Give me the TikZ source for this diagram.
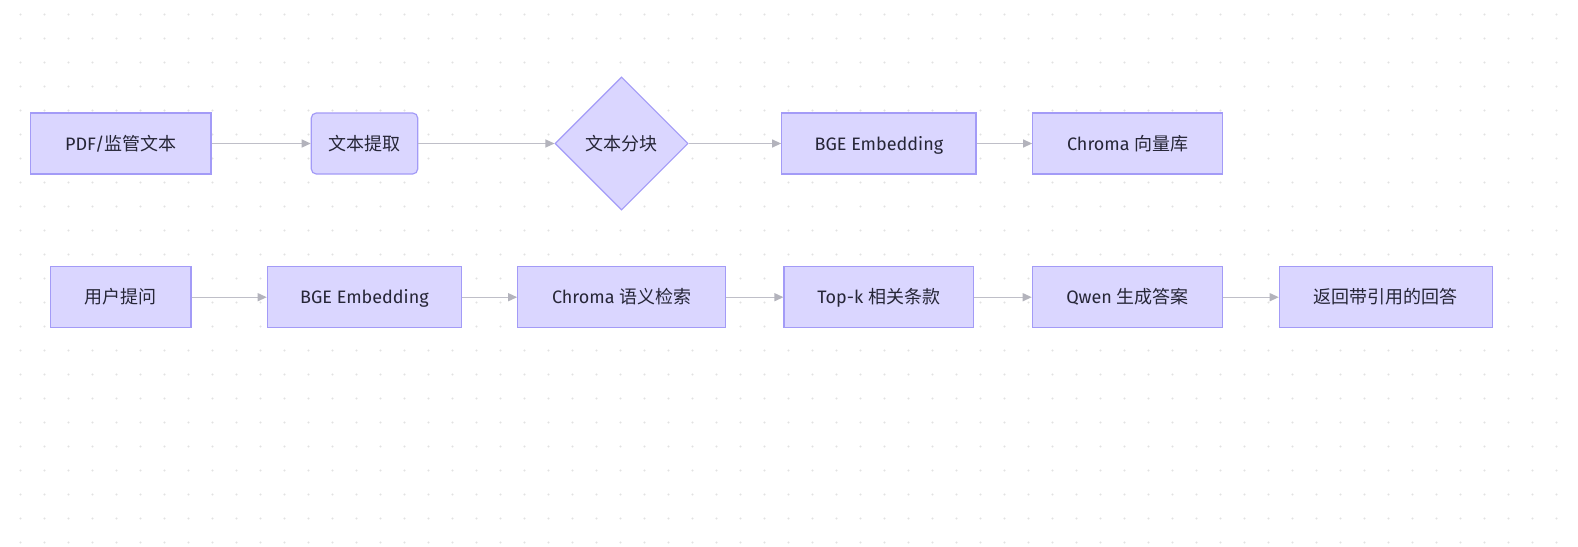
\documentclass[tikz,border=0pt]{standalone}
\usepackage{fontspec}
\setmainfont{Fira Sans}
\newfontfamily\cjk{Noto Sans CJK SC}
\usetikzlibrary{shapes.geometric,arrows.meta}
\definecolor{nodefill}{HTML}{DAD6FF}
\definecolor{nodeline}{HTML}{A39BF7}
\definecolor{edgeline}{HTML}{BFBFC8}
\definecolor{tipcol}{HTML}{B3B3BC}
\definecolor{txt}{HTML}{262637}
\definecolor{dotcol}{HTML}{E2E2E2}
\tikzset{
  box/.style={draw=nodeline, fill=nodefill, line width=1.2pt, minimum height=61pt, inner sep=0pt, text=txt, font=\fontsize{18}{22}\selectfont, text height=15.5pt, text depth=2pt},
  rbox/.style={box, rounded corners=5pt},
  dia/.style={box, diamond, minimum width=133pt, minimum height=133pt, aspect=1, line width=1.1pt},
  edge/.style={draw=edgeline, line width=1.3pt, -{Triangle[length=9pt,width=8pt,color=tipcol]}},
}
\begin{document}
\begin{tikzpicture}[x=1pt,y=-1pt]
\useasboundingbox (0,0) rectangle (1578,546);
\fill[white] (0,0) rectangle (1578,546);
\foreach \i in {0,...,64}{
  \foreach \j in {0,...,22}{
    \fill[dotcol] (20.5+24*\i,14.5+24*\j) circle (1.1pt);
  }
}
% row 1
\node[box, minimum width=180.3pt] (n1) at (120.85,143.5) {PDF/{\cjk 监管文本}};
\node[rbox, minimum width=106.4pt] (n2) at (364.5,143.5) {\cjk 文本提取};
\node[dia] (n3) at (621.5,143.5) {\cjk 文本分块};
\node[box, minimum width=194.3pt] (n4) at (878.85,143.5) {BGE Embedding};
\node[box, minimum width=190pt] (n5) at (1127.7,143.5) {Chroma {\cjk 向量库}};
% row 2
\node[box, minimum width=140.3pt] (m1) at (120.85,297.2) {\cjk 用户提问};
\node[box, minimum width=194.2pt] (m2) at (364.4,297.2) {BGE Embedding};
\node[box, minimum width=208pt] (m3) at (621.7,297.2) {Chroma {\cjk 语义检索}};
\node[box, minimum width=189.3pt] (m4) at (878.65,297.2) {Top-k {\cjk 相关条款}};
\node[box, minimum width=190.4pt] (m5) at (1127.5,297.2) {Qwen {\cjk 生成答案}};
\node[box, minimum width=213pt] (m6) at (1385.8,297.2) {\cjk 返回带引用的回答};
% edges
\draw[edge] (n1.east) -- (n2.west);
\draw[edge] (n2.east) -- (n3.west);
\draw[edge] (n3.east) -- (n4.west);
\draw[edge] (n4.east) -- (n5.west);
\draw[edge] (m1.east) -- (m2.west);
\draw[edge] (m2.east) -- (m3.west);
\draw[edge] (m3.east) -- (m4.west);
\draw[edge] (m4.east) -- (m5.west);
\draw[edge] (m5.east) -- (m6.west);
\end{tikzpicture}
\end{document}
